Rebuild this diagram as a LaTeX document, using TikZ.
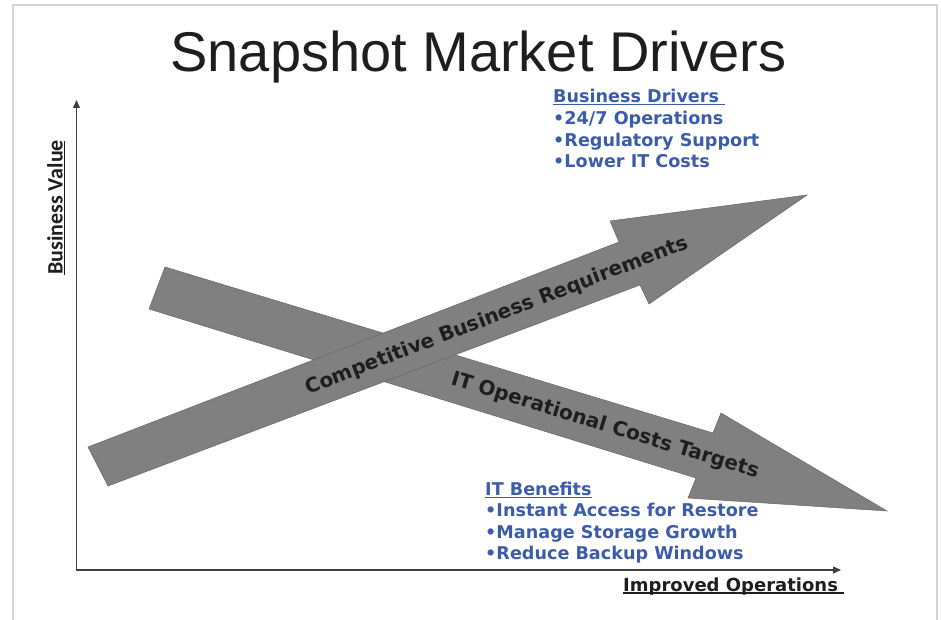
\documentclass[tikz,border=0pt]{standalone}
\usepackage{fontspec}
\setmainfont{Liberation Sans}
\newfontfamily\dvs{DejaVu Sans}
\newfontfamily\calib{Carlito}
\usetikzlibrary{arrows.meta}
\definecolor{itblue}{RGB}{60,92,170}
\definecolor{arrowgray}{RGB}{128,128,128}
\definecolor{framegray}{RGB}{212,212,212}
\definecolor{inkdark}{RGB}{30,30,30}
\begin{document}
\begin{tikzpicture}[x=1pt,y=-1pt,
  frame/.style={draw=framegray,line width=2pt},
  axisline/.style={draw=inkdark!85,line width=1.3pt,{Triangle[length=8pt,width=7pt]}-{Triangle[length=8pt,width=7pt]}},
  bigarrow/.style={fill=arrowgray,draw=black!60,line width=0.5pt},
  titletxt/.style={font=\fontsize{56}{60}\selectfont,text=inkdark,anchor=base,inner sep=0},
  bluetxt/.style={font=\dvs\bfseries\fontsize{17.6}{22}\selectfont,text=itblue,anchor=base west,inner sep=0},
  bandtxt/.style={font=\dvs\bfseries\fontsize{20}{24}\selectfont,text=inkdark,inner sep=0},
  axistxt/.style={font=\dvs\bfseries\fontsize{18}{22}\selectfont,text=inkdark,anchor=base west,inner sep=0},
  ul/.style={line width=1.4pt},
]
\useasboundingbox (0,0) rectangle (941,620);
% frame
\draw[frame] (13,625) -- (13,5) -- (937,5) -- (937,625);
% title
\node[titletxt] (title) at (478.5,72) {Snapshot Market Drivers};
% axes
\coordinate (ytop) at (76.5,100);
\coordinate (origin) at (76.5,570);
\coordinate (xend) at (841,570);
\draw[axisline] (ytop) -- (origin) -- (xend);
% axis labels
\node[font=\calib\bfseries\fontsize{22}{26}\selectfont,text=inkdark,anchor=base west,inner sep=0,rotate=90] (yl) at (62.5,275) {Business Value};
\draw[ul,inkdark] ([xshift=2pt]yl.base west) -- ([xshift=2pt,yshift=-1pt]yl.base east);
\node[axistxt] (xl) at (623,591) {Improved Operations};
\draw[ul,inkdark] ([yshift=-2pt]xl.base west) -- ([yshift=-2pt,xshift=6pt]xl.base east);
% big arrows
\draw[bigarrow] (165,267) -- (713,433) -- (721,413) -- (887,511) -- (688,498) -- (696,478) -- (149,309) -- cycle;
\draw[bigarrow] (88,447) -- (619,242) -- (610,221) -- (807,195) -- (649,304) -- (640,285) -- (108,486) -- cycle;
\node[bandtxt,rotate=21] (cbr) at (497,316) {Competitive Business Requirements};
\node[bandtxt,rotate=-17] (itc) at (605,426) {IT Operational Costs Targets};
% business drivers
\node[bluetxt] (bd0) at (553,102.5) {Business Drivers};
\draw[ul,itblue] ([yshift=-2pt]bd0.base west) -- ([yshift=-2pt,xshift=6pt]bd0.base east);
\node[bluetxt] (bd1) at (553,124.5) {•24/7 Operations};
\node[bluetxt] (bd2) at (553,146.5) {•Regulatory Support};
\node[bluetxt] (bd3) at (553,168) {•Lower IT Costs};
% IT benefits
\node[bluetxt] (ib0) at (485,495) {IT Benefits};
\draw[ul,itblue] ([yshift=-2.5pt]ib0.base west) -- ([yshift=-2.5pt]ib0.base east);
\node[bluetxt] (ib1) at (485,516.5) {•Instant Access for Restore};
\node[bluetxt] (ib2) at (485,538) {•Manage Storage Growth};
\node[bluetxt] (ib3) at (485,559.5) {•Reduce Backup Windows};
\end{tikzpicture}
\end{document}
